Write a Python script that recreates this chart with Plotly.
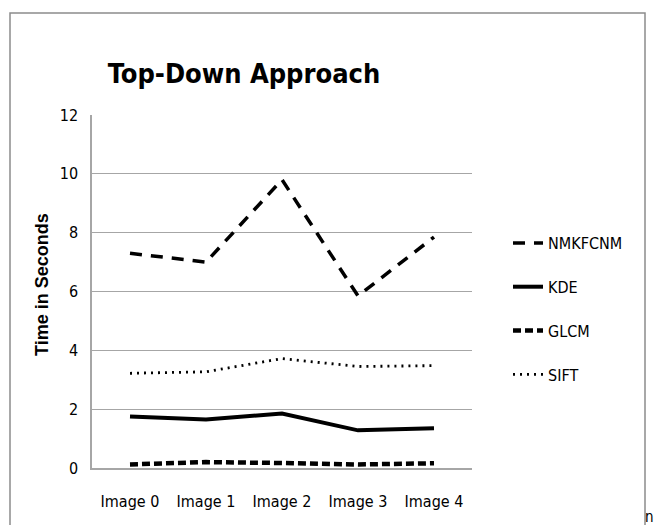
import plotly.graph_objects as go

# Categories and timing series (seconds)
images = ["Image 0", "Image 1", "Image 2", "Image 3", "Image 4"]
nmkfcnm = [7.3, 7.0, 9.8, 5.85, 7.85]
kde = [1.75, 1.65, 1.85, 1.28, 1.35]
glcm = [0.12, 0.2, 0.17, 0.12, 0.16]
sift = [3.22, 3.27, 3.72, 3.45, 3.48]
y_ticks = [0, 2, 4, 6, 8, 10, 12]

W, H = 657, 525
L, R, T, B = 92, 185, 115, 57
pw, ph = W - L - R, H - T - B


def px_x(x):
    return (x - L) / pw


def px_y(y):
    return (H - B - y) / ph


narrow = "DejaVu Sans Condensed, Liberation Sans Narrow, sans-serif"

fig = go.Figure()
series = [
    ("NMKFCNM", nmkfcnm, dict(color="black", width=3.5, dash="12px,9px")),
    ("KDE", kde, dict(color="black", width=4)),
    ("GLCM", glcm, dict(color="black", width=4.5, dash="8px,4px")),
    ("SIFT", sift, dict(color="black", width=2.8, dash="2px,5px")),
]
for name, vals, line in series:
    fig.add_trace(go.Scatter(
        x=images, y=vals, name=name, mode="lines", line=line,
        legendgroup=name,
    ))

# Outer frame around the chart area
fig.add_shape(type="rect", xref="paper", yref="paper",
              x0=px_x(10), x1=px_x(645), y0=px_y(540), y1=px_y(13),
              line=dict(color="#8c8c8c", width=1.5), layer="below")

fig.add_annotation(text="n", xref="paper", yref="paper",
                   x=px_x(656), y=px_y(517), xanchor="right", yanchor="middle",
                   showarrow=False, font=dict(family=narrow, size=15, color="black"))

fig.update_layout(
    width=W, height=H,
    margin=dict(l=L, r=R, t=T, b=B),
    paper_bgcolor="white", plot_bgcolor="white",
    title=dict(text="<b>Top-Down Approach</b>", xref="paper", x=px_x(244),
               xanchor="center", yref="container", y=1 - 74 / H, yanchor="middle",
               font=dict(family=narrow, size=27, color="black")),
    showlegend=True,
    legend=dict(x=px_x(508), y=px_y(226), xanchor="left", yanchor="top",
                tracegroupgap=20, font=dict(family=narrow, size=16, color="black"),
                bgcolor="rgba(0,0,0,0)"),
    xaxis=dict(type="category", range=[-0.5, 4.5], showgrid=False,
               showline=True, linecolor="#a6a6a6", linewidth=1.5,
               ticks="", ticklabelstandoff=18,
               tickfont=dict(family=narrow, size=16, color="black")),
    yaxis=dict(range=[0, 12], tickvals=y_ticks, showgrid=True,
               gridcolor="#a6a6a6", gridwidth=1.2, zeroline=False,
               showline=True, linecolor="#a6a6a6", linewidth=1.5,
               ticks="", ticklabelstandoff=9,
               tickfont=dict(family=narrow, size=16, color="black")),
)
# Rotated axis caption placed beside the tick labels
fig.add_annotation(text="<b>Time in Seconds</b>", xref="paper", yref="paper",
                   x=px_x(42), y=px_y(285), xanchor="center", yanchor="middle",
                   textangle=-90, showarrow=False,
                   font=dict(family="Liberation Sans, Arial, sans-serif",
                             size=18, color="black"))

fig.write_html("out.html")
